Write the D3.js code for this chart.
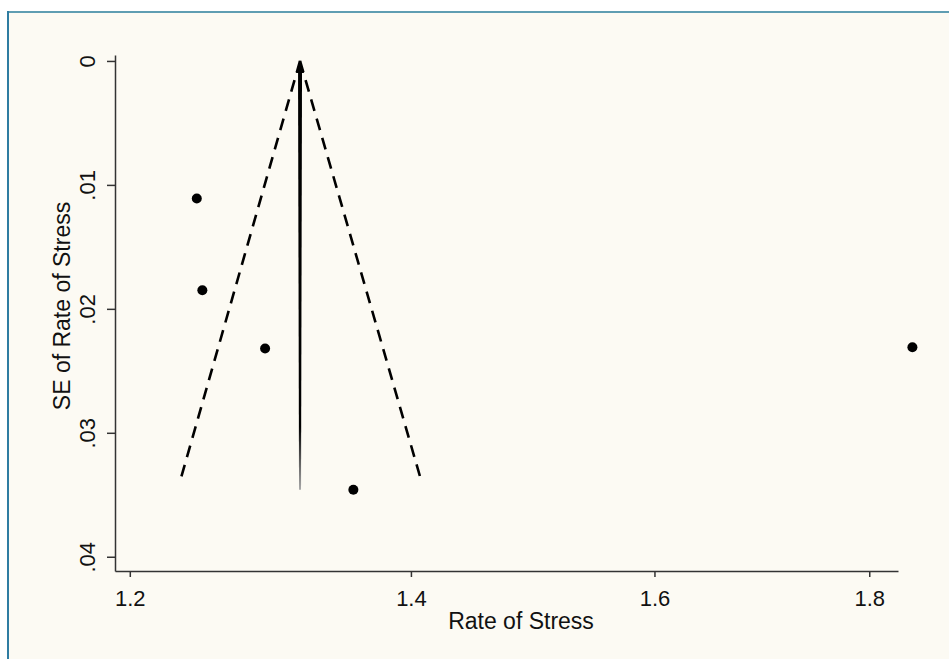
<!DOCTYPE html>
<html>
<head>
<meta charset="utf-8">
<script src="https://cdn.jsdelivr.net/npm/d3@7"></script>
<style>
  body { margin: 0; background: #ffffff; }
  text { font-family: "Liberation Sans", Arial, sans-serif; fill: #111; }
</style>
</head>
<body>
<div id="chart"></div>
<script>
// study estimates (rate) and their standard errors
let studyRate = [1.2449, 1.2487, 1.2924, 1.3565, 1.8431];
let studySE   = [0.0111, 0.0185, 0.0232, 0.0346, 0.0231];

// pooled estimate and pseudo 95% limits at the widest SE
let pooledRate = 1.3174;
let funnelSE = [0, 0.034];
let funnelLow = [1.3174, 1.2333];
let funnelHigh = [1.3174, 1.4083];

// ticks
let xTicks = [1.2, 1.4, 1.6, 1.8];
let yTicks = [0, 0.01, 0.02, 0.03, 0.04];

let width = 949;
let height = 659;

let svg = d3.select("#chart")
  .append("svg")
  .attr("width", width)
  .attr("height", height);

// outer frame
svg.append("rect")
  .attr("x", 7)
  .attr("y", 11)
  .attr("width", width - 7)
  .attr("height", height - 11)
  .attr("fill", "#fcfaf3");
svg.append("line")
  .attr("x1", 7).attr("x2", width)
  .attr("y1", 12).attr("y2", 12)
  .attr("stroke", "#5f9db2")
  .attr("stroke-width", 2);
svg.append("line")
  .attr("x1", 8).attr("x2", 8)
  .attr("y1", 11).attr("y2", height)
  .attr("stroke", "#2f7ca1")
  .attr("stroke-width", 2);

// scales (log x as in the funnel plot)
let xScale = d3.scaleLog()
  .domain([1.1903, 1.8286])
  .range([115, 898]);

let yScale = d3.scaleLinear()
  .domain([-0.00048, 0.04115])
  .range([55, 571]);

// x axis
let xAxis = svg.append("g")
  .attr("transform", "translate(0, 571)")
  .call(d3.axisBottom(xScale)
    .tickValues(xTicks)
    .tickFormat(d3.format(".1f"))
    .tickSize(6)
    .tickSizeOuter(0));
xAxis.selectAll("text")
  .attr("y", 35)
  .attr("dy", 0)
  .style("font-size", "22px")
  .style("font-family", "'Liberation Sans', Arial, sans-serif")
  .attr("fill", "#111");

// y axis, labels rotated like stata
let yAxis = svg.append("g")
  .attr("transform", "translate(115, 0)")
  .call(d3.axisLeft(yScale)
    .tickValues(yTicks)
    .tickFormat(d => d === 0 ? "0" : d3.format(".2f")(d).replace(/^0/, ""))
    .tickSize(8)
    .tickSizeOuter(0));
yAxis.selectAll("text")
  .attr("transform", "rotate(-90)")
  .attr("x", 0)
  .attr("y", -20)
  .attr("dy", 0)
  .attr("text-anchor", "middle")
  .style("font-size", "22px")
  .style("font-family", "'Liberation Sans', Arial, sans-serif")
  .attr("fill", "#111");

svg.selectAll(".domain, .tick line")
  .attr("stroke", "#333")
  .attr("stroke-width", 1.5);

// axis titles
svg.append("text")
  .attr("x", 521)
  .attr("y", 629)
  .attr("text-anchor", "middle")
  .style("font-size", "23px")
  .text("Rate of Stress");

svg.append("text")
  .attr("transform", "translate(70, 306) rotate(-90)")
  .attr("text-anchor", "middle")
  .style("font-size", "23px")
  .text("SE of Rate of Stress");

// pseudo confidence limits (dashed)
let funnelLine = d3.line()
  .x(d => xScale(d[0]))
  .y(d => yScale(d[1]));

svg.append("path")
  .datum(funnelSE.map((s, i) => [funnelLow[i], s]))
  .attr("d", funnelLine)
  .attr("fill", "none")
  .attr("stroke", "#000")
  .attr("stroke-width", 2.6)
  .attr("stroke-dasharray", "12,8");

svg.append("path")
  .datum(funnelSE.map((s, i) => [funnelHigh[i], s]))
  .attr("d", funnelLine)
  .attr("fill", "none")
  .attr("stroke", "#000")
  .attr("stroke-width", 2.6)
  .attr("stroke-dasharray", "12,8");

// pooled estimate: tapered arrow from largest SE up to SE 0
let grad = svg.append("defs")
  .append("linearGradient")
  .attr("id", "fade")
  .attr("x1", 0).attr("x2", 0)
  .attr("y1", 0).attr("y2", 1);
grad.append("stop").attr("offset", "0.85").attr("stop-color", "#000");
grad.append("stop").attr("offset", "1").attr("stop-color", "#aaa");

let px = xScale(pooledRate);
let yTop = yScale(0);
let yBot = yScale(d3.max(studySE));

svg.append("path")
  .attr("d", `M${px - 2},${yTop + 8} L${px + 2},${yTop + 8} L${px + 1},${yBot} L${px - 1},${yBot} Z`)
  .attr("fill", "url(#fade)");

svg.append("path")
  .attr("d", `M${px},${yTop - 1} L${px + 4},${yTop + 12} L${px - 4},${yTop + 12} Z`)
  .attr("fill", "#000");

// study points
svg.append("g")
  .selectAll("circle")
  .data(studyRate)
  .enter()
  .append("circle")
  .attr("cx", d => xScale(d))
  .attr("cy", (d, i) => yScale(studySE[i]))
  .attr("r", 5)
  .attr("fill", "#000");
</script>
</body>
</html>
